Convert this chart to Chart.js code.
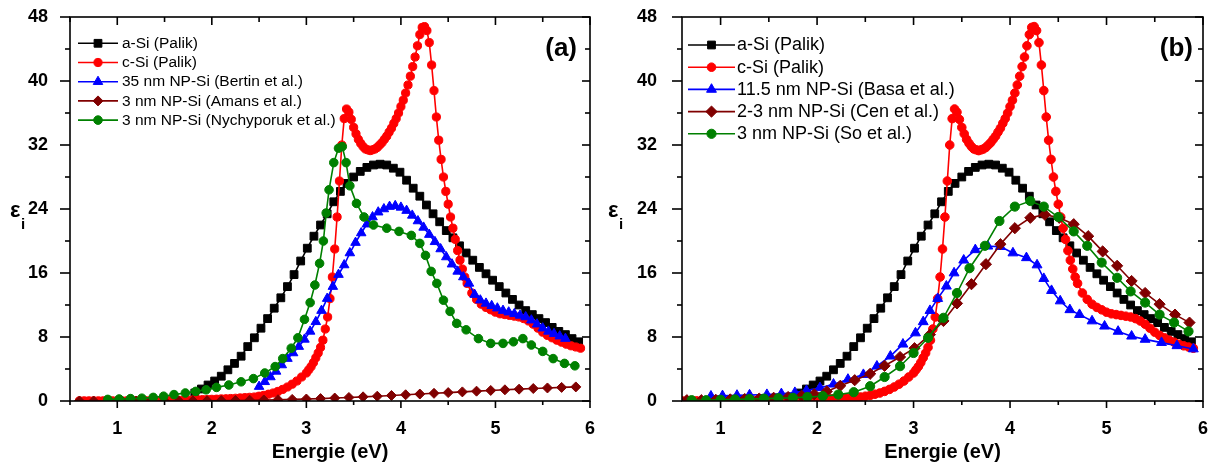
<!DOCTYPE html>
<html><head><meta charset="utf-8">
<script src="https://cdn.jsdelivr.net/npm/chart.js@4.4.1/dist/chart.umd.min.js"></script>
<style>
html,body{margin:0;padding:0;background:#fff;}
#wrap{position:relative;width:1214px;height:470px;overflow:hidden;}
canvas{position:absolute;top:0;}
</style></head>
<body><div id="wrap"><canvas id="ca" width="607" height="470" style="left:0"></canvas><canvas id="cb" width="607" height="470" style="left:607px"></canvas></div>
<script>
// ---- tick labels ----
const xTicks = [1, 2, 3, 4, 5, 6];
const xMinor = [0.5, 1.5, 2.5, 3.5, 4.5, 5.5];
const yTicks = [0, 8, 16, 24, 32, 40, 48];
const yMinor = [4, 12, 20, 28, 36, 44];

// ---- a-Si (Palik) ----
const aSiE = [1.82,1.89,1.96,2.03,2.10,2.17,2.24,2.31,2.38,2.45,2.52,2.59,2.66,2.73,2.80,2.87,2.94,3.01,3.08,3.15,3.22,3.29,3.36,3.43,3.50,3.57,3.64,3.71,3.78,3.85,3.92,3.99,4.06,4.13,4.20,4.27,4.34,4.41,4.48,4.55,4.62,4.69,4.76,4.83,4.90,4.97,5.04,5.11,5.18,5.25,5.32,5.39,5.46,5.53,5.60,5.67,5.74,5.81,5.88];
const aSiEps = [1.0,1.5,2.0,2.5,3.1,3.9,4.7,5.6,6.8,7.9,9.1,10.3,11.6,12.9,14.3,15.8,17.5,19.1,20.6,22.0,23.4,24.9,26.2,27.2,28.0,28.7,29.2,29.5,29.6,29.5,29.1,28.6,27.6,26.6,25.6,24.5,23.4,22.4,21.3,20.4,19.4,18.5,17.6,16.7,15.9,15.1,14.3,13.5,12.7,12.0,11.3,10.8,10.3,9.8,9.2,8.7,8.3,7.8,7.4];

// ---- c-Si (Palik) ----
const cSiE = [0.60,0.65,0.70,0.75,0.80,0.85,0.90,0.95,1.00,1.05,1.10,1.15,1.20,1.25,1.30,1.35,1.40,1.45,1.50,1.55,1.60,1.65,1.70,1.75,1.80,1.85,1.90,1.95,2.00,2.05,2.10,2.15,2.20,2.25,2.30,2.35,2.40,2.45,2.50,2.55,2.60,2.65,2.70,2.75,2.80,2.85,2.90,2.95,
 3.000,3.025,3.050,3.075,3.100,3.125,3.150,3.175,3.200,3.225,3.250,3.275,3.300,3.325,3.350,3.375,3.400,3.425,3.450,3.475,3.500,3.525,3.550,3.575,3.600,3.625,3.650,3.675,3.700,3.725,3.750,3.775,3.800,3.825,3.850,3.875,3.900,3.925,3.950,3.975,4.000,4.025,4.050,4.075,4.100,4.125,4.150,4.175,4.200,4.225,4.250,4.275,4.300,4.325,4.350,4.375,4.400,4.425,4.450,4.475,4.500,4.525,4.550,4.575,4.600,4.625,4.650,4.675,4.700,
 4.75,4.80,4.85,4.90,4.95,5.00,5.05,5.10,5.15,5.20,5.25,5.30,5.35,5.40,5.45,5.50,5.55,5.60,5.65,5.70,5.75,5.80,5.85,5.90];
const cSiEps = [0.02,0.02,0.02,0.02,0.02,0.02,0.02,0.02,0.02,0.02,0.02,0.03,0.03,0.04,0.04,0.05,0.05,0.06,0.07,0.08,0.09,0.10,0.11,0.12,0.13,0.15,0.17,0.19,0.21,0.23,0.26,0.28,0.31,0.34,0.38,0.42,0.46,0.50,0.6,0.7,0.85,1.0,1.2,1.45,1.75,2.1,2.5,3.0,
 3.5,3.9,4.3,4.8,5.4,6.0,6.7,7.6,9.0,10.5,12.8,15.5,19.0,23.0,27.5,32.0,35.3,36.5,36.1,35.2,34.2,33.4,32.7,32.2,31.8,31.5,31.4,31.3,31.4,31.5,31.7,32.0,32.3,32.7,33.1,33.6,34.1,34.7,35.3,36.0,36.8,37.6,38.5,39.5,40.6,41.8,43.0,44.4,45.8,46.7,46.8,46.3,44.8,42.0,38.8,35.5,32.6,30.2,28.0,26.2,24.6,23.0,21.6,20.2,18.8,17.6,16.5,15.5,14.7,
 13.5,12.7,12.1,11.7,11.4,11.1,10.9,10.8,10.7,10.6,10.5,10.3,10.0,9.6,9.1,8.6,8.2,7.9,7.6,7.35,7.1,6.9,6.75,6.6];

// ---- (a) 35 nm NP-Si (Bertin et al.) ----
const bertinE = [2.50,2.56,2.62,2.68,2.74,2.80,2.86,2.92,2.98,3.04,3.10,3.16,3.22,3.28,3.34,3.40,3.46,3.52,3.58,3.64,3.70,3.76,3.82,3.88,3.94,4.00,4.06,4.12,4.18,4.24,4.30,4.36,4.42,4.48,4.54,4.60,4.66,4.72,4.78,4.84,4.90,4.96,5.02,5.08,5.14,5.20,5.26,5.32,5.38,5.44,5.50,5.56,5.62,5.68,5.74];
const bertinEps = [1.8,2.4,3.0,3.7,4.5,5.3,6.0,6.8,7.7,8.7,9.9,11.3,12.8,14.3,15.8,17.0,18.5,19.8,21.0,22.1,23.0,23.6,24.0,24.3,24.4,24.2,23.8,23.2,22.5,21.7,20.8,19.9,19.0,18.0,17.1,16.2,15.5,14.7,13.3,12.6,12.2,11.9,11.6,11.3,11.1,10.9,10.7,10.5,10.1,9.6,9.1,8.7,8.4,8.1,7.8];

// ---- (a) 3 nm NP-Si (Amans et al.) ----
const amansE = [0.60,0.75,0.90,1.05,1.20,1.35,1.50,1.65,1.80,1.95,2.10,2.25,2.40,2.55,2.70,2.85,3.00,3.15,3.30,3.45,3.60,3.75,3.90,4.05,4.20,4.35,4.50,4.65,4.80,4.95,5.10,5.25,5.40,5.55,5.70,5.85];
const amansEps = [0,0,0,0,0,0,0,0,0.02,0.03,0.05,0.07,0.1,0.13,0.16,0.2,0.25,0.3,0.37,0.44,0.52,0.6,0.69,0.78,0.87,0.96,1.05,1.14,1.23,1.32,1.4,1.48,1.56,1.63,1.7,1.76];

// ---- (a) 3 nm NP-Si (Nychyporuk et al.) ----
const nychE = [0.90,1.02,1.14,1.26,1.38,1.49,1.60,1.72,1.83,1.94,2.05,2.18,2.31,2.44,2.56,2.67,2.75,2.84,2.91,2.98,3.04,3.09,3.14,3.18,3.21,3.24,3.29,3.34,3.38,3.42,3.46,3.53,3.61,3.71,3.85,3.98,4.11,4.20,4.26,4.32,4.38,4.45,4.52,4.59,4.69,4.82,4.95,5.08,5.19,5.29,5.38,5.50,5.61,5.73,5.84];
const nychEps = [0.2,0.25,0.3,0.35,0.45,0.6,0.8,1.0,1.2,1.4,1.7,2.0,2.4,2.8,3.5,4.3,5.3,6.6,7.9,10.2,12.3,14.5,17.2,20.0,23.5,26.4,29.8,31.6,31.8,29.8,26.9,24.7,23.0,22.0,21.6,21.2,20.7,19.7,18.2,16.2,14.7,12.6,11.2,9.7,8.9,7.8,7.2,7.2,7.4,7.8,7.0,6.2,5.3,4.7,4.4];

// ---- (b) 11.5 nm NP-Si (Basa et al.) ----
const basaE = [0.90,1.02,1.17,1.30,1.48,1.63,1.77,1.89,2.03,2.17,2.32,2.48,2.62,2.76,2.89,3.02,3.10,3.17,3.25,3.34,3.42,3.52,3.64,3.77,3.90,4.03,4.17,4.28,4.35,4.43,4.52,4.62,4.72,4.85,4.98,5.12,5.26,5.40,5.57,5.73,5.90];
const basaEps = [0.6,0.65,0.7,0.75,0.8,0.9,1.05,1.3,1.65,2.1,2.7,3.3,4.35,5.6,7.1,8.5,9.9,11.3,12.8,14.35,16.0,17.6,18.9,19.35,19.3,18.5,17.9,17.0,15.3,13.8,12.5,11.4,10.8,10.0,9.35,8.7,8.1,7.7,7.3,6.9,6.5];

// ---- (b) 2-3 nm NP-Si (Cen et al.) ----
const cenE = [0.65,0.80,0.95,1.10,1.25,1.40,1.55,1.70,1.84,1.97,2.10,2.24,2.39,2.55,2.70,2.86,3.01,3.17,3.31,3.45,3.60,3.75,3.90,4.05,4.21,4.36,4.51,4.66,4.81,4.96,5.11,5.26,5.40,5.55,5.71,5.86];
const cenEps = [0.1,0.1,0.15,0.2,0.25,0.3,0.4,0.5,0.65,0.85,1.2,1.9,2.6,3.4,4.4,5.5,6.6,8.3,10.0,12.2,14.6,17.1,19.6,21.6,22.9,23.3,22.9,22.1,20.6,18.7,16.9,15.0,13.5,12.1,10.8,9.8];

// ---- (b) 3 nm NP-Si (So et al.) ----
const soE = [0.70,0.85,1.00,1.15,1.30,1.45,1.60,1.75,1.90,2.06,2.22,2.38,2.55,2.70,2.86,3.00,3.15,3.31,3.45,3.58,3.74,3.89,4.05,4.21,4.35,4.50,4.66,4.80,4.95,5.11,5.25,5.40,5.55,5.70,5.85];
const soEps = [0.1,0.1,0.15,0.2,0.25,0.3,0.35,0.4,0.5,0.6,0.8,1.1,1.85,3.0,4.35,6.0,7.9,10.4,13.5,16.6,19.4,22.5,24.3,25.0,24.3,23.0,21.2,19.4,17.3,15.4,13.7,12.3,10.8,9.8,8.7];

const FONT = '"Liberation Sans", Arial, Helvetica, sans-serif';
const zip = (E, V) => E.map((e, i) => ({x: e, y: V[i]}));

function ds(label, E, V, color, style, radius, order) {
  return {label, data: zip(E, V), borderColor: color, backgroundColor: color,
    pointBackgroundColor: color, pointBorderColor: color, pointStyle: style,
    pointRadius: radius, pointBorderWidth: 1, borderWidth: 1.6, tension: 0,
    fill: false, order};
}

const framePlugin = {
  id: 'frame',
  afterDraw(chart, args, o) {
    const ctx = chart.ctx, a = chart.chartArea, xs = chart.scales.x, ys = chart.scales.y;
    ctx.save();
    ctx.strokeStyle = '#000'; ctx.lineWidth = 1.6; ctx.lineCap = 'butt';
    ctx.strokeRect(a.left, a.top, a.right - a.left, a.bottom - a.top);
    const seg = (x1, y1, x2, y2) => { ctx.beginPath(); ctx.moveTo(x1, y1); ctx.lineTo(x2, y2); ctx.stroke(); };
    xTicks.forEach(v => { if (v < xs.min || v > xs.max) return; const p = xs.getPixelForValue(v);
      seg(p, a.bottom, p, a.bottom + 7); seg(p, a.top, p, a.top + 8); });
    xMinor.forEach(v => { if (v < xs.min || v > xs.max) return; const p = xs.getPixelForValue(v);
      seg(p, a.bottom, p, a.bottom + 4); seg(p, a.top, p, a.top + 5); });
    yTicks.forEach(v => { const p = ys.getPixelForValue(v);
      seg(a.left - 10, p, a.left, p); seg(a.right - 8, p, a.right, p); });
    yMinor.forEach(v => { const p = ys.getPixelForValue(v);
      seg(a.left - 5, p, a.left, p); seg(a.right - 5, p, a.right, p); });

    // axis titles
    ctx.fillStyle = '#000';
    ctx.font = 'bold 20px ' + FONT; ctx.textAlign = 'center'; ctx.textBaseline = 'middle';
    ctx.fillText('Energie (eV)', (a.left + a.right) / 2, 452);
    ctx.textAlign = 'left'; ctx.textBaseline = 'alphabetic';
    ctx.font = 'bold 22px ' + FONT; ctx.fillText('ε', o.epsX, 217);
    ctx.font = 'bold 15px ' + FONT; ctx.fillText('i', o.epsX + 11, 229);
    // panel label
    ctx.font = 'bold 26px ' + FONT; ctx.textAlign = 'right';
    ctx.fillText(o.panel, a.right - o.panelDx, 56);

    // legend
    const L = o.legend;
    ctx.font = L.font + 'px ' + FONT; ctx.textAlign = 'left'; ctx.textBaseline = 'middle';
    chart.data.datasets.forEach((d, i) => {
      const y = a.top + L.y0 + i * L.dy;
      ctx.strokeStyle = d.borderColor; ctx.lineWidth = 1.6;
      seg(a.left + L.x0, y, a.left + L.x1, y);
      ctx.fillStyle = d.borderColor; ctx.lineWidth = 1;
      Chart.helpers.drawPoint(ctx, {pointStyle: d.pointStyle, radius: d.pointRadius, rotation: 0, borderWidth: 1}, a.left + L.mx, y);
      ctx.fillStyle = '#000';
      ctx.fillText(d.label, a.left + L.tx, y + 0.5);
    });
    ctx.restore();
  }
};

function noPad(s) { s.paddingTop = 0; s.paddingBottom = 0; s.paddingLeft = 0; s.paddingRight = 0; }

function makeChart(id, datasets, xmin, padRight, yWidth, yPad, frameOpts) {
  return new Chart(document.getElementById(id), {
    type: 'line',
    data: {datasets},
    plugins: [framePlugin],
    options: {
      responsive: false, animation: false, events: [],
      layout: {padding: {left: 0, right: padRight, top: 17, bottom: 0}},
      plugins: {legend: {display: false}, tooltip: {enabled: false}, frame: frameOpts},
      scales: {
        x: {type: 'linear', min: xmin, max: 6,
          afterBuildTicks: s => { s.ticks = xTicks.map(v => ({value: v})); },
          afterFit: s => { s.height = 69; noPad(s); },
          grid: {display: false}, border: {display: false},
          ticks: {padding: 9, color: '#000', autoSkip: false, maxRotation: 0, font: {family: FONT, size: 18, weight: 'bold'}}},
        y: {type: 'linear', min: 0, max: 48,
          afterBuildTicks: s => { s.ticks = yTicks.map(v => ({value: v})); },
          afterFit: s => { s.width = yWidth; noPad(s); },
          grid: {display: false}, border: {display: false},
          ticks: {padding: yPad, color: '#000', autoSkip: false, font: {family: FONT, size: 18, weight: 'bold'}}}
      }
    }
  });
}

const BLACK = '#000000', RED = '#ff0000', BLUE = '#0000ff', DRED = '#800000', GREEN = '#008000';

makeChart('ca', [
  ds('a-Si (Palik)', aSiE, aSiEps, BLACK, 'rect', 5.5, 5),
  ds('c-Si (Palik)', cSiE, cSiEps, RED, 'circle', 4.1, 4),
  ds('35 nm NP-Si (Bertin et al.)', bertinE, bertinEps, BLUE, 'triangle', 5.5, 3),
  ds('3 nm NP-Si (Amans et al.)', amansE, amansEps, DRED, 'rectRot', 5, 2),
  ds('3 nm NP-Si (Nychyporuk et al.)', nychE, nychEps, GREEN, 'circle', 4.3, 1)
], 0.5, 17, 70, 14, {panel: '(a)', panelDx: 13, epsX: 10,
  legend: {x0: 8, x1: 48, mx: 28, tx: 52, y0: 26.3, dy: 19.2, font: 15.5}});

makeChart('cb', [
  ds('a-Si (Palik)', aSiE, aSiEps, BLACK, 'rect', 5.5, 5),
  ds('c-Si (Palik)', cSiE, cSiEps, RED, 'circle', 4.3, 4),
  ds('11.5 nm NP-Si (Basa et al.)', basaE, basaEps, BLUE, 'triangle', 5.7, 3),
  ds('2-3 nm NP-Si (Cen et al.)', cenE, cenEps, DRED, 'rectRot', 5.6, 2),
  ds('3 nm NP-Si (So et al.)', soE, soEps, GREEN, 'circle', 4.6, 1)
], 0.6, 11, 75, 17, {panel: '(b)', panelDx: 10, epsX: 1,
  legend: {x0: 6, x1: 53, mx: 29.5, tx: 55, y0: 28, dy: 22.2, font: 18}});
</script>
</body></html>
